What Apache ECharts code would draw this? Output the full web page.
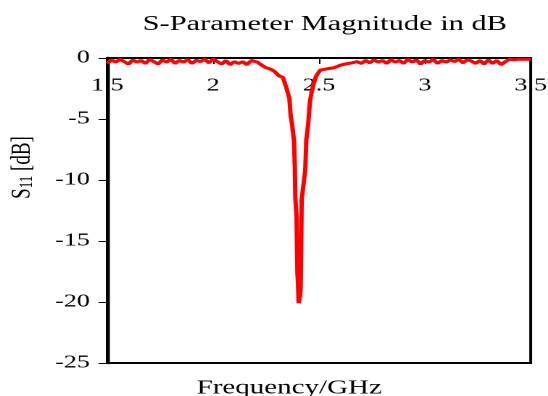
<!DOCTYPE html>
<html>
<head>
<meta charset="utf-8">
<script src="https://cdn.jsdelivr.net/npm/echarts@6.0.0/dist/echarts.min.js"></script>
<style>
  html, body { margin: 0; padding: 0; background: #fff; overflow: hidden; }
  /* the reference picture is stretched sideways, so draw narrow and stretch */
  #chart { width: 378px; height: 396px; transform: scaleX(1.45); transform-origin: 0 0; }
</style>
</head>
<body>
<div id="chart"></div>
<script>
// frequency (GHz) and S11 (dB)
const freq = [
  1.50, 1.52, 1.54, 1.56, 1.58, 1.60, 1.62, 1.64, 1.66, 1.68,
  1.70, 1.72, 1.74, 1.76, 1.78, 1.80, 1.82, 1.84, 1.86, 1.88,
  1.90, 1.92, 1.94, 1.96, 1.98, 2.00, 2.02, 2.04, 2.06, 2.08,
  2.10, 2.12, 2.14, 2.16, 2.18, 2.19, 2.21, 2.23, 2.25, 2.27,
  2.29, 2.31, 2.33, 2.345, 2.36, 2.366, 2.374, 2.382, 2.386, 2.388,
  2.394, 2.396, 2.398, 2.400, 2.404, 2.410, 2.413, 2.415, 2.416, 2.418,
  2.428, 2.435, 2.440, 2.445, 2.450, 2.457, 2.465, 2.473, 2.486, 2.505,
  2.52, 2.55, 2.57, 2.58, 2.60, 2.62, 2.64, 2.66, 2.68, 2.70,
  2.72, 2.74, 2.76, 2.78, 2.80, 2.82, 2.84, 2.86, 2.88, 2.90,
  2.92, 2.94, 2.96, 2.98, 3.00, 3.02, 3.04, 3.06, 3.08, 3.10,
  3.12, 3.14, 3.16, 3.18, 3.20, 3.22, 3.24, 3.26, 3.28, 3.30,
  3.32, 3.34, 3.36, 3.38, 3.40, 3.42, 3.44, 3.46, 3.48, 3.50
]
const s11 = [
  -0.45, -0.15, -0.35, -0.10, -0.30, -0.50, -0.15, -0.35, -0.20, -0.45,
  -0.12, -0.30, -0.50, -0.15, -0.35, -0.10, -0.45, -0.20, -0.35, -0.12,
  -0.45, -0.18, -0.30, -0.10, -0.40, -0.08, -0.30, -0.50, -0.20, -0.55,
  -0.30, -0.45, -0.30, -0.55, -0.20, -0.10, -0.35, -0.60, -0.80, -0.90,
  -1.10, -1.45, -1.60, -2.40, -3.30, -4.70, -5.60, -6.80, -9.00, -11.40,
  -13.00, -15.50, -17.60, -18.20, -20.10, -19.50, -19.00, -16.50, -14.90, -11.60,
  -10.20, -9.20, -6.70, -6.00, -5.20, -3.60, -2.80, -2.20, -1.50, -1.00,
  -0.95, -0.85, -0.80, -0.70, -0.60, -0.50, -0.45, -0.38, -0.30, -0.45,
  -0.20, -0.40, -0.15, -0.35, -0.20, -0.45, -0.12, -0.35, -0.20, -0.45,
  -0.10, -0.35, -0.15, -0.50, -0.20, -0.35, -0.10, -0.45, -0.20, -0.35,
  -0.15, -0.30, -0.10, -0.40, -0.15, -0.25, -0.45, -0.20, -0.50, -0.15,
  -0.45, -0.20, -0.55, -0.30, -0.10, -0.15, -0.10, -0.10, -0.10, -0.10
]

const font = '"Liberation Serif", "Times New Roman", serif'

const chart = echarts.init(document.getElementById('chart'), null, { devicePixelRatio: 2 })

chart.setOption({
  backgroundColor: '#fff',
  animation: false,
  title: {
    text: 'S-Parameter Magnitude in dB',
    left: 219,
    top: 9,
    textAlign: 'center',
    textStyle: { fontFamily: font, fontSize: 21, fontWeight: 'normal', color: '#000' }
  },
  grid: {
    left: 74, right: 12, top: 58, bottom: 33,
    outerBoundsMode: 'none',
    show: true, borderColor: '#000', borderWidth: 2
  },
  xAxis: [
    {
      type: 'value',
      position: 'top',
      min: 1.5, max: 3.5, interval: 0.5,
      axisLine: { lineStyle: { color: '#000', width: 2 } },
      axisTick: { inside: true, length: 6, lineStyle: { color: '#000', width: 1 } },
      axisLabel: { inside: true, margin: 19, color: '#000', fontFamily: font, fontSize: 18 },
      splitLine: { show: false }
    },
    {
      type: 'value',
      position: 'bottom',
      min: 1.5, max: 3.5,
      name: 'Frequency/GHz',
      nameLocation: 'middle',
      nameGap: 15,
      nameTextStyle: { fontFamily: font, fontSize: 20, color: '#000', padding: [0, 41, 0, 0] },
      axisLine: { lineStyle: { color: '#000', width: 2 } },
      axisTick: { show: false },
      axisLabel: { show: false },
      splitLine: { show: false }
    }
  ],
  yAxis: {
    type: 'value',
    min: -25, max: 0, interval: 5,
    name: 'S{s|11} [dB]',
    nameLocation: 'middle',
    nameGap: 49,
    nameTextStyle: {
      fontFamily: font, fontSize: 19, color: '#000', padding: [0, 0, 0, 86],
      rich: { s: { fontFamily: font, fontSize: 13, color: '#000', verticalAlign: 'bottom' } }
    },
    axisLine: { show: true, lineStyle: { color: '#000', width: 2.5 } },
    axisTick: { show: true, length: 6, lineStyle: { color: '#000', width: 1 } },
    axisLabel: {
      margin: 12, color: '#000', fontFamily: font, fontSize: 18,
      formatter: v => String(v)
    },
    splitLine: { show: false }
  },
  series: [{
    type: 'line',
    xAxisIndex: 0,
    symbol: 'none',
    lineStyle: { color: '#ff0000', width: 3 },
    data: freq.map((f, i) => [f, s11[i]])
  }]
})
</script>
</body>
</html>
